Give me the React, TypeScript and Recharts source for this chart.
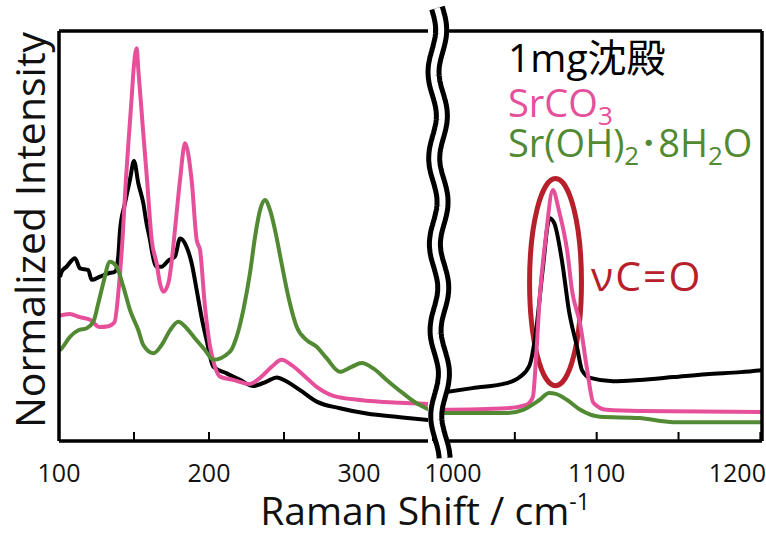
import { LineChart, Line, XAxis, YAxis, ReferenceArea } from 'recharts'

// 1mg precipitate, low-shift window
const precipLeftShift = [100.7, 101.8, 105, 110.7, 114, 119.5, 121.8, 127.3, 132.9, 137.3, 139.5, 140.7, 144, 147.3, 150, 152.9, 156.2, 158.4, 160.7, 161.8, 165, 168.4, 172.9, 177.3, 180.7, 185, 188.4, 191.8, 195, 198.4, 202.9, 211.8, 220.7, 229.5, 238.4, 245.1, 251.8, 260.7, 271.8, 287.3, 305.1, 327.3, 347]
const precipLeftIntensity = [40, 41.3, 42.5, 44.6, 42.1, 41.7, 39.3, 40.1, 40.9, 41.3, 45, 51.5, 58, 63.7, 68.3, 62.8, 58, 53, 49, 46.6, 42.5, 42.5, 44, 45, 49.4, 47.4, 43.4, 36.8, 30.3, 24.6, 18.1, 16.5, 14.9, 13.4, 14.5, 15.5, 14.5, 12.4, 9.6, 8, 6.7, 5.8, 5.1]

// SrCO3 reference, low-shift window
const carbonateLeftShift = [100, 107, 114, 121, 127, 133, 137, 140, 142.3, 144.6, 146.9, 148.5, 149.7, 151.8, 152.9, 154.3, 156, 158.7, 161.8, 165.1, 167.3, 169.5, 172.9, 175, 177.3, 180.7, 184, 188.4, 191.8, 194, 197.3, 200.7, 204, 207.3, 216.2, 227.3, 234, 241.8, 248.4, 255.1, 262.9, 271.8, 282.9, 300.7, 327.3, 347]
const carbonateLeftIntensity = [30.5, 31, 30.2, 29.5, 27.8, 28, 29, 38, 49, 63.7, 75.9, 84, 90.5, 95.8, 90.5, 84, 75.9, 63.7, 49, 43.3, 38.5, 36.4, 38.5, 43.4, 51.5, 63.7, 72.6, 63.7, 49, 46.6, 32.8, 23, 18.1, 15.7, 14.9, 13.9, 15.4, 18.1, 19.8, 18.5, 16.1, 13.2, 11, 10, 9.3, 9]

// Sr(OH)2·8H2O reference, low-shift window
const hydroxideLeftShift = [100, 101.8, 107.3, 112.9, 118.4, 122.9, 126.2, 129.5, 134, 138.4, 142.9, 147.3, 152.9, 156.2, 162.9, 168.4, 174, 179.5, 185.1, 190.7, 197.3, 202.9, 214, 218.4, 222.9, 227.3, 230.7, 234, 237.3, 240.7, 244, 248.4, 252.9, 258.4, 265.1, 271.8, 278.4, 287.3, 295.1, 301.8, 309.5, 318.4, 329.5, 338.4, 347.3]
const hydroxideLeftIntensity = [22, 22.6, 25.4, 27, 27.5, 29.1, 33.6, 38.5, 43.7, 42.5, 37.6, 32, 27, 23.4, 21.4, 23.4, 27, 29.1, 27.5, 25, 22.2, 19.8, 21.8, 25.4, 32, 40.9, 49.8, 56.3, 58.8, 56.3, 51.5, 43.3, 35.2, 27.9, 24.6, 23, 20.2, 16.9, 18.1, 19, 17.7, 14.9, 11.6, 9.2, 7.6]

// high-shift window (carbonate stretch region)
const precipRightShift = [1004, 1024, 1045, 1053, 1059, 1063, 1067, 1071.2, 1074, 1079, 1083, 1088, 1091, 1096, 1110, 1126, 1147, 1167, 1188, 1202]
const precipRightIntensity = [11.7, 12.9, 14.1, 15.6, 18.5, 27, 41.7, 54.3, 53.2, 43.4, 31.9, 22.9, 17.3, 15.4, 14.6, 14.9, 15.6, 16.3, 16.8, 17.3]

const carbonateRightShift = [1004, 1045, 1057, 1061, 1063, 1065, 1069, 1073.2, 1077, 1082, 1085, 1090, 1094, 1098, 1106, 1126, 1202]
const carbonateRightIntensity = [7.6, 8, 8.8, 10.7, 20.5, 33.9, 50, 61.2, 56.1, 46.3, 36.6, 28.3, 17.8, 9.3, 7.6, 7.3, 7.1]

const hydroxideRightShift = [1004, 1045, 1055, 1065, 1071, 1075, 1082, 1090, 1102, 1126, 1147, 1167, 1202]
const hydroxideRightIntensity = [6.8, 6.8, 7.6, 10, 11.7, 11.5, 10, 7.6, 5.9, 5.6, 4.6, 4.6, 4.6]

const leftTicks = [100, 150, 200, 250, 300]
const rightTicks = [1000, 1050, 1100, 1150, 1200]
const labeledTicks = [100, 200, 300, 1000, 1100, 1200]

// the two labels next to the axis break / right edge are nudged inward
const tickLabelShift: Record<number, number> = { 1000: 20, 1200: -23 }

const BLACK = '#000000'
const PINK = '#e6509a'
const GREEN = '#528a33'
const RED = '#b7202b'
const FONT = '"Open Sans", "Noto Sans CJK JP", sans-serif'

const toPoints = (xs: number[], ys: number[]) => xs.map((x, i) => ({ shift: x, intensity: ys[i] }))

const frame = { stroke: '#000', strokeWidth: 3.5 }

function InwardTick({ x, y, payload }: any) {
  const v = payload.value
  return (
    <g>
      <line x1={x} y1={y} x2={x} y2={y - 9} stroke="#000" strokeWidth={2} />
      {labeledTicks.includes(v) && (
        <text x={x + (tickLabelShift[v] || 0)} y={y + 41} textAnchor="middle" fontSize={25} fontFamily={FONT} fill="#111">
          {v}
        </text>
      )}
    </g>
  )
}

function Ellipse({ x, y, width, height }: any) {
  return <ellipse cx={x + width / 2} cy={y + height / 2} rx={width / 2} ry={height / 2} fill="none" stroke={RED} strokeWidth={5} />
}

// wavy double line marking the axis break
function breakPath() {
  const pts: string[] = []
  for (let y = 8; y <= 458; y += 2) {
    const x = 437 + (y - 8) * 0.008 + 4 * Math.sin(((y - 8) / 86) * Math.PI * 2)
    pts.push(`${x.toFixed(1)},${y}`)
  }
  return 'M' + pts.join(' L')
}

const lineProps = { dataKey: 'intensity', type: 'monotone' as const, strokeWidth: 4, dot: false, isAnimationActive: false }

export default function App() {
  const path = breakPath()
  return (
    <div style={{ position: 'absolute', left: 0, top: 0, width: 766, height: 534, background: '#fff', overflow: 'hidden' }}>
      <div style={{ position: 'absolute', left: 0, top: 0 }}>
        <LineChart width={440} height={534} margin={{ top: 30, bottom: 33, left: 58, right: 12 }}>
          <XAxis dataKey="shift" type="number" domain={[100, 346]} allowDataOverflow ticks={leftTicks} interval={0}
            height={60} tickSize={0} tickMargin={0} tickLine={false} axisLine={frame} tick={<InwardTick />} />
          <XAxis xAxisId="top" orientation="top" dataKey="shift" type="number" domain={[100, 346]} allowDataOverflow height={1} tick={false} tickLine={false} axisLine={frame} />
          <YAxis type="number" domain={[0, 100]} allowDataOverflow width={1} tick={false} tickLine={false} axisLine={frame} />
          <Line {...lineProps} data={toPoints(precipLeftShift, precipLeftIntensity)} stroke={BLACK} />
          <Line {...lineProps} data={toPoints(carbonateLeftShift, carbonateLeftIntensity)} stroke={PINK} />
          <Line {...lineProps} data={toPoints(hydroxideLeftShift, hydroxideLeftIntensity)} stroke={GREEN} />
        </LineChart>
      </div>
      <div style={{ position: 'absolute', left: 400, top: 0 }}>
        <LineChart width={366} height={534} margin={{ top: 30, bottom: 33, left: 33, right: 3 }}>
          <XAxis dataKey="shift" type="number" domain={[1000, 1201]} allowDataOverflow ticks={rightTicks} interval={0}
            height={60} tickSize={0} tickMargin={0} tickLine={false} axisLine={frame} tick={<InwardTick />} />
          <XAxis xAxisId="top" orientation="top" dataKey="shift" type="number" domain={[1000, 1201]} allowDataOverflow height={1} tick={false} tickLine={false} axisLine={frame} />
          <YAxis orientation="right" type="number" domain={[0, 100]} allowDataOverflow width={1} tick={false} tickLine={false} axisLine={frame} />
          <Line {...lineProps} data={toPoints(precipRightShift, precipRightIntensity)} stroke={BLACK} />
          <Line {...lineProps} data={toPoints(carbonateRightShift, carbonateRightIntensity)} stroke={PINK} />
          <Line {...lineProps} data={toPoints(hydroxideRightShift, hydroxideRightIntensity)} stroke={GREEN} />
          <ReferenceArea x1={1059} x2={1090.7} y1={13.5} y2={64} shape={<Ellipse />} />
        </LineChart>
      </div>
      <svg width={766} height={534} style={{ position: 'absolute', left: 0, top: 0, pointerEvents: 'none' }} fontFamily={FONT}>
        <path d={path} fill="none" stroke="#000" strokeWidth={16} />
        <path d={path} fill="none" stroke="#fff" strokeWidth={6} />

        <text x={508} y={72} fontSize={39} fill={BLACK}>1mg沈殿</text>
        <text x={508} y={117} fontSize={38} fill={PINK}>
          SrCO<tspan fontSize={26} dy={8}>3</tspan>
        </text>
        <text x={508} y={157} fontSize={38} fill={GREEN}>
          Sr(OH)<tspan fontSize={26} dy={8}>2</tspan>
          <tspan dy={-8}>･8H</tspan>
          <tspan fontSize={26} dy={8}>2</tspan>
          <tspan dy={-8}>O</tspan>
        </text>

        <text x={591} y={291} fontSize={41} letterSpacing={2} fill={RED}>νC=O</text>

        <text x={45} y={230} fontSize={41} textAnchor="middle" transform="rotate(-90 45 230)" fill="#111">Normalized Intensity</text>
        <text x={425} y={525} fontSize={39} textAnchor="middle" fill="#111">
          Raman Shift / cm<tspan fontSize={23} dy={-15}>-1</tspan>
        </text>
      </svg>
    </div>
  )
}
